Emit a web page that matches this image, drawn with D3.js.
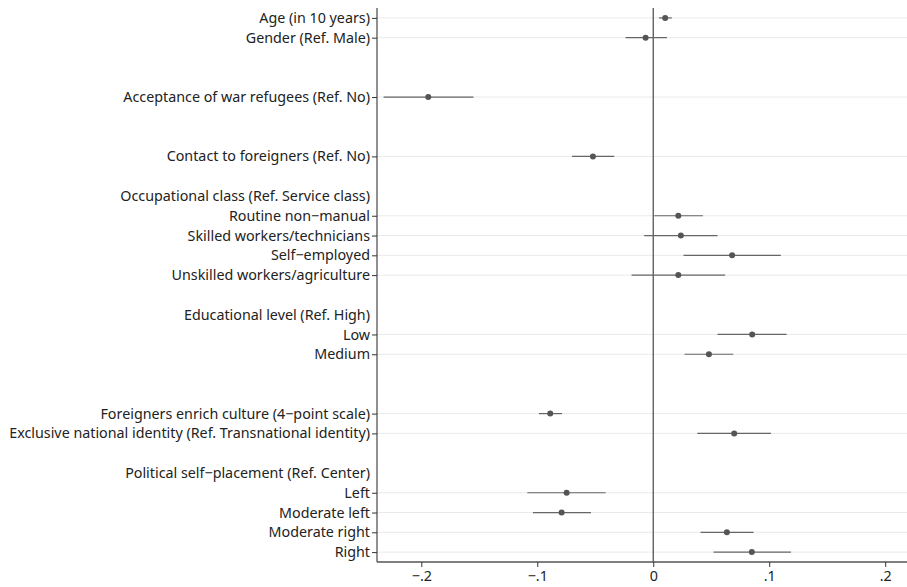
<!DOCTYPE html>
<html>
<head>
<meta charset="utf-8">
<script src="https://d3js.org/d3.v7.min.js"></script>
<style>
  body { margin: 0; background: #fff; }
  svg { display: block; }
  text { font-family: "Noto Sans", sans-serif; fill: #222; }
</style>
</head>
<body>
<svg width="907" height="587"></svg>
<script>
  // row labels, top to bottom; "" = empty row
  var labels = [
    "Age (in 10 years)",
    "Gender (Ref. Male)",
    "",
    "",
    "Acceptance of war refugees (Ref. No)",
    "",
    "",
    "Contact to foreigners (Ref. No)",
    "",
    "Occupational class (Ref. Service class)",
    "Routine non\u2212manual",
    "Skilled workers/technicians",
    "Self\u2212employed",
    "Unskilled workers/agriculture",
    "",
    "Educational level (Ref. High)",
    "Low",
    "Medium",
    "",
    "",
    "Foreigners enrich culture (4\u2212point scale)",
    "Exclusive national identity (Ref. Transnational identity)",
    "",
    "Political self\u2212placement (Ref. Center)",
    "Left",
    "Moderate left",
    "Moderate right",
    "Right"
  ];

  // which rows are group headings (no estimate, no tick)
  var headers = [9, 15, 23];

  // estimates: row, coefficient, lower and upper CI
  var rows = [0, 1, 4, 7, 10, 11, 12, 13, 16, 17, 20, 21, 24, 25, 26, 27];
  var coef = [0.0103, -0.0066, -0.194, -0.052, 0.0216, 0.0238, 0.068, 0.0216,
              0.0853, 0.048, -0.0888, 0.0698, -0.0747, -0.079, 0.0635, 0.085];
  var lower = [0.0049, -0.0239, -0.2325, -0.070, 0.0009, -0.0078, 0.0261, -0.0187,
               0.0554, 0.027, -0.0985, 0.038, -0.1086, -0.1037, 0.0408, 0.052];
  var upper = [0.016, 0.0118, -0.155, -0.0336, 0.0428, 0.0554, 0.110, 0.062,
               0.115, 0.069, -0.0787, 0.1015, -0.041, -0.0537, 0.0865, 0.1187];

  var xTicks = [-0.2, -0.1, 0, 0.1, 0.2];
  var xTickLabels = ["\u2212.2", "\u2212.1", "0", ".1", ".2"];

  var data = rows.map(function (r, i) {
    return { row: r, coef: coef[i], lo: lower[i], hi: upper[i] };
  });

  var svg = d3.select("svg"),
    margin = { top: 8, right: 0, bottom: 25, left: 377 },
    width = +svg.attr("width") - margin.left - margin.right,
    height = +svg.attr("height") - margin.top - margin.bottom,
    g = svg.append("g")
      .attr("transform", "translate(" + margin.left + "," + margin.top + ")");

  var x = d3.scaleLinear()
    .domain([-0.2382, 0.2188])
    .range([0, width]);

  var y = d3.scaleLinear()
    .domain([-0.5, labels.length - 0.5])
    .range([0, height]);

  // gridlines
  g.append("g")
    .selectAll("line")
    .data(rows)
    .enter()
    .append("line")
    .attr("x1", 0)
    .attr("x2", width)
    .attr("y1", function (d) { return y(d); })
    .attr("y2", function (d) { return y(d); })
    .style("stroke", "#eaeaea")
    .style("stroke-width", 1);

  // zero line
  g.append("line")
    .attr("x1", x(0))
    .attr("x2", x(0))
    .attr("y1", 0)
    .attr("y2", height)
    .style("stroke", "#555")
    .style("stroke-width", 1.3);

  // y axis
  var yAxis = d3.axisLeft(y)
    .tickValues(d3.range(labels.length))
    .tickSize(5)
    .tickPadding(2)
    .tickFormat(function (d) { return labels[d]; });

  var ya = g.append("g").attr("class", "axis axis--y").call(yAxis);
  ya.select(".domain").attr("d", "M0,0V" + height).style("stroke", "#555").style("stroke-width", 1.3);
  ya.selectAll(".tick line")
    .style("stroke", "#333")
    .style("display", function (d) {
      return labels[d] === "" || headers.indexOf(d) >= 0 ? "none" : null;
    });
  ya.selectAll(".tick text")
    .attr("x", -7)
    .style("font-size", "14.3px")
    .style("font-family", "'Noto Sans', sans-serif")
    .style("fill", "#222");

  // x axis
  var xAxis = d3.axisBottom(x)
    .tickValues(xTicks)
    .tickSize(5)
    .tickPadding(4)
    .tickFormat(function (d, i) { return xTickLabels[i]; });

  var xa = g.append("g")
    .attr("class", "axis axis--x")
    .attr("transform", "translate(0," + height + ")")
    .call(xAxis);
  xa.select(".domain").attr("d", "M0,0H" + width).style("stroke", "#555").style("stroke-width", 1.3);
  xa.selectAll(".tick line").style("stroke", "#333");
  xa.selectAll(".tick text")
    .style("font-size", "14.3px")
    .style("font-family", "'Noto Sans', sans-serif")
    .style("fill", "#222");

  // confidence intervals
  var est = g.selectAll(".est")
    .data(data)
    .enter()
    .append("g")
    .attr("class", "est");

  est.append("line")
    .attr("x1", function (d) { return x(d.lo); })
    .attr("x2", function (d) { return x(d.hi); })
    .attr("y1", function (d) { return y(d.row); })
    .attr("y2", function (d) { return y(d.row); })
    .style("stroke", "#666")
    .style("stroke-width", 1.2);

  est.append("circle")
    .attr("cx", function (d) { return x(d.coef); })
    .attr("cy", function (d) { return y(d.row); })
    .attr("r", 3)
    .style("fill", "#555");
</script>
</body>
</html>
